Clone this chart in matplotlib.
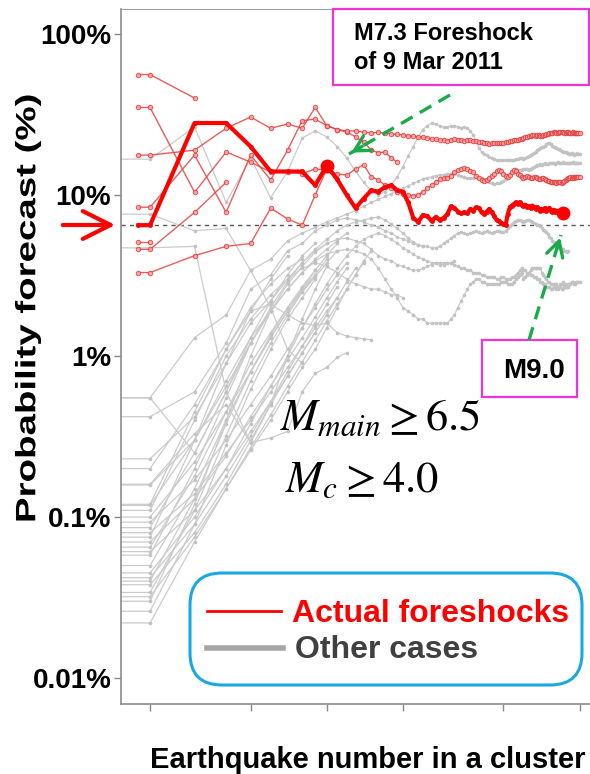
import matplotlib
matplotlib.use("Agg")
import matplotlib.pyplot as plt
from matplotlib.patches import FancyBboxPatch, Rectangle, FancyArrowPatch, PathPatch
from matplotlib.lines import Line2D
from matplotlib.transforms import IdentityTransform, Affine2D
from matplotlib.textpath import TextPath
from matplotlib.font_manager import FontProperties

plt.rcParams['font.family'] = ['Liberation Sans', 'DejaVu Sans']
plt.rcParams['mathtext.fontset'] = 'stix'

# ---- data: probability (%) at earthquake number n = 2, 3, 4, ...
# (each series also has a flat lead-in drawn before n = 2)
red_main = [6.5, 28, 28, 20, 14, 14, 14, 11.5, 15.2, 12.5, 10, 8.3, 9.5, 10.7, 10.5, 11.2, 11.5, 10.7,
            10.5, 9.0, 7.2, 6.8, 7.5, 7.4, 6.9, 7.3, 7.0, 7.2, 7.6, 8.5, 8.3, 7.9, 7.7, 7.8, 7.7, 8.2,
            8.0, 8.4, 8.3, 7.8, 7.6, 7.9, 8.2, 7.8, 7.4, 7.0, 6.9, 6.7, 6.6, 6.5, 7.6, 8.4, 8.6, 8.8,
            9.0, 8.8, 9.0, 8.7, 8.5, 8.7, 8.4, 8.5, 8.3, 8.6, 8.4, 8.2, 8.4, 8.2, 8.0, 8.2, 8.1, 8.3,
            8.0, 8.2, 8.3, 8.0, 7.9, 8.1, 7.8, 8.0, 7.9, 7.8, 7.8, 7.7, 7.7]
red_upper = [17.7, 19, 26, 30.5, 26, 27.6, 26, 35, 27, 25.5, 25, 25, 24.6, 24.3, 24.5, 24.2, 24, 23.8,
             23.6, 23.4, 23.2, 23, 22.8, 22.6, 22.4, 22.2, 22, 22, 21.8, 22, 22.2, 22.1, 21.9, 21.8,
             22, 22.1, 21.8, 21.5, 21.3, 21.2, 21, 21, 20.8, 20.9, 21, 21.1, 21, 20.9, 21, 21.2,
             21.4, 21.6, 21.8, 22, 22.1, 22, 22.2, 22.4, 22.6, 22.8, 23, 23.2, 23.4, 23.6, 23.5,
             23.4, 23.6, 23.5, 23.4, 23.3, 23.5, 23.7, 23.9, 24.1, 24.3, 24.2, 24.4, 24.6, 24.5,
             24.3, 24.4, 24.6, 24.8, 24.7, 24.5, 24.3, 24.4, 24.6, 24.5, 24.4, 24.3, 24.4, 24.5,
             24.4, 24.3, 24.2, 24.3, 24.2, 24.2]
red_middle = [35, 10.4, 18.5, 16, 13.9, 13.9, 13.6, 14.5, 14.3, 13.5, 13.3, 14.5, 15.4, 13, 12.4, 11.5,
              11, 10.4, 10.2, 10, 9.9, 10, 10.5, 11, 11.5, 12, 12.5, 12.7, 12.8, 13.2, 13.8, 14.3,
              14.5, 14.7, 14.6, 14.2, 13.8, 13.2, 12.8, 12.4, 12.2, 12.4, 12.8, 13.2, 13.6, 14.0,
              14.3, 14.0, 13.6, 13.2, 13.0, 13.3, 13.8, 14.3, 14.0, 13.6, 13.3, 13.0, 12.8, 12.9,
              13.1, 13.0, 12.8, 12.7, 12.9, 13.0, 12.8, 12.6, 12.5, 12.7, 12.8, 12.6, 12.4, 12.3,
              12.2, 12.1, 12.0, 12.1, 12.0, 11.9, 12.0, 12.1, 12.0, 11.9, 12.0, 12.2, 12.4, 12.5,
              12.7, 12.8, 12.9, 12.8, 12.9, 12.8, 12.9, 12.9, 12.9, 12.9, 12.9]
red_short_a = [56, 40]
red_short_d = [8.4, 17.7, 7.8, 17.7, 12.4, 19, 29, 29.6, 27, 25.5, 24.6, 23, 21.3, 19, 18.3, 18.5, 17, 16]
red_short_e = [4.6, 7.8, 12]
red_short_f = [3.3, 4.2, 4.8, 5.0, 8.3, 7.1, 6.5, 10, 14.5]
red_short_g = [5.1]

gray_long = [
    [16.7, 26.5, 9.0, 17.0, 9.6, 14.0, 22.6, 25.0, 23, 20, 17, 14, 12, 10.5, 10, 10.5, 11.5, 13,
     15, 17.5, 20, 23, 25.5, 27, 28, 27.5, 27, 26.5, 26.5, 27, 27, 26.5, 26, 26.5, 26, 25, 23.5, 21.5,
     19.5, 18.5, 18, 17.7, 17.3, 17, 16.7, 16.5, 16.4, 16.5, 16.4, 16.5, 16.6, 16.5, 16.4, 16.5,
     16.7, 16.8, 16.9, 17, 16.8, 17, 17.2, 17.5, 17.8, 18, 18.3, 18.6, 19, 19.3, 19.6, 19.8, 20,
     20.3, 20.6, 21, 21, 20.6, 20.3, 20, 19.8, 19.6, 19.4, 19.2, 19, 18.8, 18.6, 18.5, 18.4, 18.3,
     18.2, 18, 18.1, 18.2, 18, 17.8, 17.9, 18.1, 18.2, 18.0, 17.9],
    [0.55, 1.3, 1.8, 3.4, 4.0, 5.2, 5.8, 6.3, 6.8, 7.2, 7.6, 8.0, 8.5, 9.0, 9.4, 9.8, 10.2, 10.6,
     11, 11.4, 11.8, 12.2, 12.6, 12.8, 13, 13.2, 13.3, 13.4, 13.5, 13.6, 13.5, 13.3, 13.1, 12.9,
     12.8, 12.7, 12.8, 12.9, 13, 12.8, 12.5, 12.2, 12, 11.8, 11.7, 11.8, 11.9, 12, 12.2, 12.6, 13,
     13.5, 14, 14.3, 14.5, 14.4, 14.3, 14.4, 14.5, 14.6, 14.5, 14.4, 14.6, 14.8, 15, 15.2, 15.3,
     15.4, 15.5, 15.4, 15.6, 15.8, 15.6, 15.5, 15.7, 15.9, 15.8, 15.7, 15.6, 15.8, 16, 15.9, 15.7,
     15.8, 16, 15.9, 15.7, 15.8, 15.9, 15.8, 15.7, 15.9, 16.0, 15.8, 15.7, 15.9, 15.8, 15.7, 15.8],
    [0.42, 0.6, 1.2, 2.6, 3.2, 4.5, 5.0, 6.0, 6.5, 7.0, 7.2, 7.0, 6.8, 6.5, 6.3, 6.0, 5.8, 5.5,
     5.3, 5.2, 5.0, 4.9, 4.8, 4.8, 4.7, 4.7, 4.8, 5.0, 5.2, 5.4, 5.6, 5.8, 5.9, 5.8, 5.7, 5.8, 5.9,
     6.0, 5.9, 5.8, 5.9, 6.0, 5.9, 5.8, 5.9, 6.0, 6.0, 5.9, 5.9, 6.0, 6.2, 6.4, 6.6, 6.8, 6.9, 7.0,
     7.0, 6.9, 6.8, 6.9, 7.0, 7.0, 6.9, 6.8, 6.7, 6.6, 6.5, 6.5, 6.4, 6.2, 6.1, 6.0, 5.9, 5.7, 5.5,
     5.4, 5.2, 5.1, 5.0, 4.9, 4.8, 4.8, 4.7, 4.6, 4.6, 4.5, 4.5, 4.4, 4.5],
    [0.23, 0.42, 0.9, 1.6, 2.2, 3.0, 3.8, 4.5, 5.0, 5.3, 5.4, 5.2, 5.0, 4.6, 4.2, 4.0, 3.9, 3.7,
     3.6, 3.5, 3.4, 3.4, 3.5, 3.6, 3.7, 3.8, 3.8, 3.8, 3.8, 3.8, 3.7, 3.6, 3.5, 3.5, 3.4, 3.4, 3.3,
     3.3, 3.3, 3.2, 3.2, 3.1, 3.1, 3.1, 3.1, 3.0, 3.0, 3.1, 3.1, 3.0, 3.0, 3.0, 3.1, 3.1, 3.2, 3.3,
     3.4, 3.5, 3.0, 3.1, 3.2, 3.3, 3.4, 3.5, 3.5, 3.5, 3.5, 3.5, 3.5, 3.3, 3.2, 3.1, 3.0, 2.9, 2.9,
     2.8, 2.8, 2.8, 2.8, 2.8, 2.7, 2.7, 2.8, 2.8, 2.9, 2.8, 2.8, 2.7, 2.7, 2.8, 2.8, 2.9, 2.9, 2.8,
     2.8, 2.9, 2.9, 2.9, 2.9],
    [0.158, 0.3, 0.7, 1.3, 1.9, 2.6, 3.3, 3.9, 4.3, 4.5, 4.6, 4.5, 4.3, 4.0, 3.5, 3.0, 2.6, 2.3,
     2.0, 1.9, 1.8, 1.7, 1.7, 1.6, 1.6, 1.6, 1.6, 1.6, 1.6, 1.7, 1.8, 2.0, 2.2, 2.4, 2.6, 2.8, 2.9,
     3.0, 3.0, 2.9, 2.9, 2.8, 2.8, 2.8, 2.8, 2.8, 2.8, 2.9, 2.9, 2.9, 2.8, 2.8, 2.8, 2.9, 3.0, 3.1,
     3.2, 3.3, 3.4, 3.4, 3.3, 3.3, 3.2, 3.2, 3.1, 3.1, 3.0, 3.0, 2.9, 2.9, 2.8, 2.8, 2.7, 2.7, 2.7,
     2.6, 2.6, 2.7, 2.7, 2.6, 2.6, 2.7, 2.7, 2.6, 2.6, 2.7, 2.7, 2.7, 2.8],
]
gray_mid = [
    [0.045, 0.1, 0.2, 0.38, 0.65, 1.0, 1.5, 2.1, 2.8, 3.5, 4.2, 4.8, 5.3, 5.6, 5.8, 5.6, 5.3, 5.0,
     4.7, 4.5, 4.3, 4.1, 4.0, 3.9, 3.8, 3.8, 3.7, 3.7, 3.8, 3.8, 3.9],
    [0.058, 0.2, 0.55, 1.2, 2.0, 2.9, 3.8, 4.6, 5.3, 6.0, 6.5, 6.8, 7.0, 7.2, 7.3, 7.0, 6.6, 6.2,
     5.8, 5.4, 5.1, 4.9, 4.8],
    [0.11, 0.4, 1.0, 1.7, 2.4, 3.0, 3.5, 3.8, 3.6, 3.3, 3.0, 2.8, 2.7, 2.6, 2.6, 2.5, 2.4, 2.4, 2.3],
    [0.2, 0.5, 1.1, 1.9, 2.1, 1.8, 1.6, 1.55, 1.6, 1.4, 1.33, 1.3, 1.28, 1.26],
    [0.16, 0.33, 0.5, 0.29, 0.31, 0.34, 0.6, 0.78, 0.85, 0.98, 1.05],
]
gray_short = [
    [0.55, 0.25, 0.6, 1.3, 2.2, 3.2, 4.2, 5.0],
    [0.12, 0.45, 1.1, 2.0, 2.8, 3.5, 4.0],
    [0.118, 0.3, 0.65, 1.2, 1.9, 2.8, 3.6, 4.4, 5.0],
    [0.1, 0.22, 0.45, 0.8, 1.3, 1.9, 2.6, 3.4, 4.2, 5.0],
    [0.093, 0.17, 0.3, 0.5, 0.75, 1.1, 1.5, 2.0, 2.6, 3.2, 3.8],
    [0.086, 0.25, 0.6, 1.2, 1.9, 2.6, 3.3, 4.0, 4.6, 5.2, 5.8],
    [0.08, 0.14, 0.25, 0.4, 0.6, 0.85, 1.15, 1.5, 1.9, 2.3],
    [0.075, 0.3, 0.9, 1.9, 3.0, 4.2],
    [0.07, 0.13, 0.24, 0.42, 0.65, 0.95, 1.3, 1.75, 2.3, 2.9, 3.5],
    [0.065, 0.18, 0.45, 0.9, 1.4, 2.0, 2.6, 3.2],
    [0.061, 0.11, 0.2, 0.34, 0.52, 0.75, 1.05, 1.4, 1.8, 2.3, 2.9, 3.5],
    [0.05, 0.15, 0.4, 0.8, 1.3, 1.9, 2.5, 3.1, 3.8, 4.5],
    [0.042, 0.09, 0.18, 0.32, 0.52, 0.8, 1.15, 1.6, 2.1, 2.7],
    [0.04, 0.13, 0.38, 0.8, 1.35, 2.0, 2.7, 3.4],
    [0.038, 0.08, 0.16, 0.3, 0.5, 0.75, 1.05, 1.4, 1.8],
    [0.034, 0.11, 0.32, 0.7, 1.2, 1.8, 2.5, 3.2, 4.0],
    [0.032, 0.075, 0.15, 0.27, 0.43, 0.65, 0.92, 1.25, 1.65, 2.1, 2.6, 3.2, 3.8],
    [0.026, 0.09, 0.28, 0.62, 1.1, 1.7, 2.3, 3.0],
    [0.022, 0.07, 0.15, 0.26, 0.4, 0.6, 0.85, 1.1, 1.5, 2.0, 2.6, 3.2, 3.9, 4.5],
    [0.03, 0.12, 0.4, 1.0, 1.9],
    [7.6, 6.0, 6.2, 3.4, 2.0, 1.1, 0.9],
    [4.7, 4.8, 0.6, 0.29, 0.5, 1.0, 1.7, 2.6, 3.6],
]

red_start = 1.8      # where the red lead-in begins
gray_start = 1.535   # gray lead-in begins at the left edge
main_dot_n = [10, 86]
threshold = 6.5
yticks = [0.01, 0.1, 1, 10, 100]
ylabels = ['0.01%', '0.1%', '1%', '10%', '100%']
xticks = [2, 5, 10, 20, 50, 100]


def series_xy(vals, lead):
    xs = [lead] + list(range(2, 2 + len(vals)))
    ys = [vals[0]] + list(vals)
    return xs, ys


W, H = 590, 774
fig = plt.figure(figsize=(W / 100, H / 100), dpi=100)
ax = fig.add_axes([121 / W, 1 - 704 / H, (W - 121) / W, (704 - 9) / H])
ax.set_xscale('log')
ax.set_yscale('log')

gray_c = '#cbcbcb'
for s in gray_short + gray_mid + gray_long:
    xs, ys = series_xy(s, gray_start)
    ax.plot(xs, ys, '-', color=gray_c, lw=0.9, zorder=2)
    ax.plot(xs[1:], ys[1:], 'o', color='#c2c2c2', ms=2.6, mec='none', zorder=2)

red_thin = '#e8403c'
for s in [red_short_a, red_short_d, red_short_e, red_short_f, red_short_g, red_middle, red_upper]:
    xs, ys = series_xy(s, red_start)
    ax.plot(xs, ys, '-', color=red_thin, lw=1.0, alpha=0.85, zorder=3,
            marker='o', ms=3.2, mfc='#f6a3a3', mec='#e33a3a', mew=0.7)

xs, ys = series_xy(red_main, red_start)
ax.plot(xs, ys, '-', color='#ff0000', lw=3.0, zorder=4, marker='o', ms=3.5, mec='none')
dot_y = [ys[xs.index(n)] for n in main_dot_n]
ax.plot(main_dot_n, dot_y, 'o', color='#ff0000', ms=10, mec='none', zorder=5)

ax.axhline(threshold, color='#555555', lw=1.0, ls=(0, (3, 3)), zorder=1)

ax.set_xlim(1.535, 110)
ax.set_ylim(0.0069, 143)
ax.set_yticks(yticks)
ax.set_yticklabels(ylabels, fontsize=20, fontweight='bold')
ax.set_xticks(xticks)
ax.set_xticklabels([''] * len(xticks))
ax.minorticks_off()
ax.tick_params(axis='both', length=5, width=1, color='#888888', pad=2)
for side in ['left', 'bottom']:
    ax.spines[side].set_color('#8c8c8c')
    ax.spines[side].set_linewidth(1.2)
ax.spines['top'].set_color('#a0a0a0')
ax.spines['right'].set_visible(False)

ident = IdentityTransform()

# y label: the original text is stretched along its length
ylab = TextPath((0, 0), 'Probability forecast (%)', size=28,
                prop=FontProperties(family='Liberation Sans', weight='bold'))
bb = ylab.get_extents()
tr = (Affine2D().translate(-(bb.x0 + bb.width / 2), -(bb.y0 + bb.height / 2))
      .scale(425 / bb.width, 1).rotate_deg(90).translate(28, H - 308))
fig.add_artist(PathPatch(tr.transform_path(ylab), fc='black', ec='none', transform=ident))

fig.text(368 / W, 1 - 768 / H, 'Earthquake number in a cluster', fontsize=21,
         fontweight='bold', ha='center', va='baseline')

fig.text(280 / W, 1 - 430 / H, r'$M_{main} \geq 6.5$', fontsize=32, va='baseline')
fig.text(285 / W, 1 - 492 / H, r'$M_c \geq 4.0$', fontsize=32, va='baseline')

# annotation boxes (pixel coordinates, origin bottom-left)
fig.add_artist(Rectangle((333, H - 85), 256, 76, fill=False, ec='#ee33dd', lw=1.6, transform=ident))
fig.text(354 / W, 1 - 40 / H, 'M7.3 Foreshock', fontsize=17, fontweight='bold', va='baseline')
fig.text(354 / W, 1 - 69 / H, 'of 9 Mar 2011', fontsize=17, fontweight='bold', va='baseline')
fig.add_artist(Rectangle((482, H - 397), 95, 57, fill=False, ec='#ee33dd', lw=1.6, transform=ident))
fig.text(503 / W, 1 - 378 / H, 'M9.0', fontsize=20, fontweight='bold', va='baseline')

# green dashed arrows
green = '#1aaa48'
for (x0, y0), (x1, y1) in [((450, 95), (349, 154)), ((529, 340), (561, 235))]:
    fig.add_artist(Line2D([x0, x1], [H - y0, H - y1], color=green, lw=2.4, ls=(0, (4, 2.5)),
                          transform=ident))
    dx, dy = x1 - x0, y1 - y0
    d = (dx * dx + dy * dy) ** 0.5
    fig.add_artist(FancyArrowPatch((x1 - dx / d * 18, H - (y1 - dy / d * 18)), (x1, H - y1),
                                   arrowstyle='->,head_length=11,head_width=6', color=green,
                                   lw=2.4, transform=ident, mutation_scale=1))

# red arrow at the threshold
fig.add_artist(FancyArrowPatch((60, H - 225), (118, H - 225),
                               arrowstyle='->,head_length=20,head_width=10', color='#ff0000',
                               lw=3, transform=ident, mutation_scale=1))

# legend box
fig.add_artist(FancyBboxPatch((190, H - 685), 392, 112, boxstyle='round,pad=0,rounding_size=32',
                              fill=False, ec='#1aa8e2', lw=2.2, transform=ident))
fig.add_artist(Line2D([207, 281], [H - 611, H - 611], color='#ff0000', lw=2, transform=ident))
fig.add_artist(Line2D([207, 283], [H - 648, H - 648], color='#a6a6a6', lw=4, transform=ident))
fig.text(292 / W, 1 - 622 / H, 'Actual foreshocks', fontsize=23, fontweight='bold',
         color='#ff0000', va='baseline')
fig.text(295 / W, 1 - 658 / H, 'Other cases', fontsize=23, fontweight='bold',
         color='#404040', va='baseline')

fig.savefig('out.png', dpi=100)
